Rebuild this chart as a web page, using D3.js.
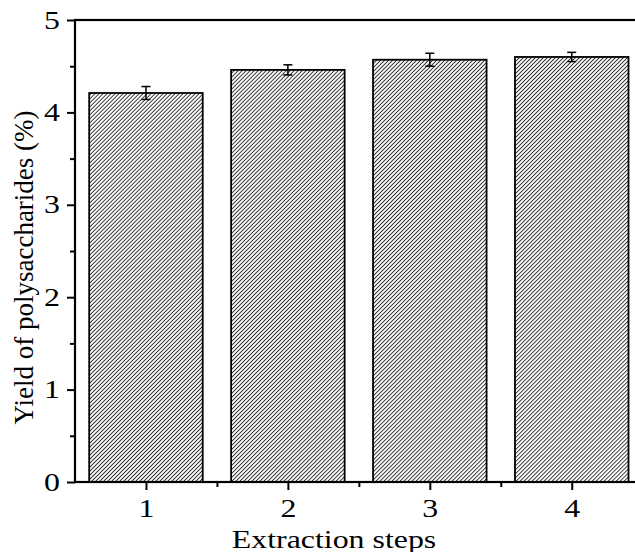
<!DOCTYPE html>
<html><head><meta charset="utf-8">
<script src="https://cdn.jsdelivr.net/npm/d3@7"></script>
<style>body{margin:0;background:#fff}svg{display:block}text{font-family:"Liberation Serif","Times New Roman",serif;fill:#000}</style>
</head><body><svg id="c" width="635" height="552"></svg>
<script>
const categories = [1, 2, 3, 4];
const yields = [4.21, 4.46, 4.57, 4.60];
const errors = [0.07, 0.055, 0.07, 0.05];
const yTicks = [0, 1, 2, 3, 4, 5];
const yMinorTicks = [0.5, 1.5, 2.5, 3.5, 4.5];
const xMinorTicks = [1.5, 2.5, 3.5];
const xLabel = "Extraction steps";
const yLabel = "Yield of polysaccharides (%)";

const svg = d3.select("#c");
const mLeft = 75, mRight = 642.7, mTop = 20, mBottom = 482;
const sx = 1.25, fs = 25.5;
const x = d3.scaleLinear().domain([0.5, 4.5]).range([mLeft, mRight]);
const y = d3.scaleLinear().domain([0, 5]).range([mBottom, mTop]);
const bw = (x(1) - x(0)) * 0.8;

const defs = svg.append("defs");
const pw = 2.83;
const pat = defs.append("pattern").attr("id", "hatch").attr("patternUnits", "userSpaceOnUse")
  .attr("width", pw).attr("height", pw).attr("patternTransform", "rotate(45)");
pat.append("rect").attr("width", pw).attr("height", pw).attr("fill", "#fff");
pat.append("line").attr("x1", 0).attr("y1", 0).attr("x2", 0).attr("y2", pw)
  .attr("stroke", "#000").attr("stroke-width", 1.5);

svg.selectAll("rect.bar").data(categories).enter().append("rect").attr("class", "bar")
  .attr("x", (d) => x(d) - bw / 2).attr("width", bw)
  .attr("y", (d, i) => y(yields[i])).attr("height", (d, i) => y(0) - y(yields[i]))
  .attr("fill", "url(#hatch)").attr("stroke", "#000").attr("stroke-width", 1.8);

const eb = svg.append("g").attr("stroke", "#000").attr("stroke-width", 1.5);
categories.forEach((c, i) => {
  const cx = x(c), t = y(yields[i] + errors[i]), b = y(yields[i] - errors[i]);
  eb.append("line").attr("x1", cx).attr("x2", cx).attr("y1", t).attr("y2", b);
  eb.append("line").attr("x1", cx - 4.5).attr("x2", cx + 4.5).attr("y1", t).attr("y2", t);
  eb.append("line").attr("x1", cx - 4.5).attr("x2", cx + 4.5).attr("y1", b).attr("y2", b);
});

svg.append("rect").attr("x", mLeft).attr("y", mTop).attr("width", mRight - mLeft).attr("height", mBottom - mTop)
  .attr("fill", "none").attr("stroke", "#000").attr("stroke-width", 2.2);

const yAxis = svg.append("g").attr("transform", `translate(${mLeft},0)`)
  .call(d3.axisLeft(y).tickValues(yTicks).tickSize(8).tickPadding(7).tickFormat(d3.format("d")));
yAxis.select(".domain").remove();
yAxis.selectAll("line").attr("stroke-width", 2);
yAxis.selectAll("text").attr("font-size", fs).style("font-family", "Liberation Serif")
  .attr("x", -15 / sx).attr("transform", `scale(${sx},1)`);
const yMin = svg.append("g").attr("transform", `translate(${mLeft},0)`)
  .call(d3.axisLeft(y).tickValues(yMinorTicks).tickSize(5).tickFormat(""));
yMin.select(".domain").remove();
yMin.selectAll("line").attr("stroke-width", 2);

const xAxis = svg.append("g").attr("transform", `translate(0,${mBottom})`)
  .call(d3.axisBottom(x).tickValues(categories).tickSize(8).tickPadding(9).tickFormat(d3.format("d")));
xAxis.select(".domain").remove();
xAxis.selectAll("line").attr("stroke-width", 2);
xAxis.selectAll("text").attr("font-size", fs).style("font-family", "Liberation Serif")
  .attr("transform", `scale(${sx},1)`);
const xMin = svg.append("g").attr("transform", `translate(0,${mBottom})`)
  .call(d3.axisBottom(x).tickValues(xMinorTicks).tickSize(5).tickFormat(""));
xMin.select(".domain").remove();
xMin.selectAll("line").attr("stroke-width", 2);

svg.append("g").attr("transform", `translate(334,548) scale(${sx},1)`)
  .append("text").attr("text-anchor", "middle").attr("font-size", fs).text(xLabel);
svg.append("text").attr("transform", "translate(33,267.5) rotate(-90)").attr("text-anchor", "middle")
  .attr("font-size", 27).text(yLabel);
</script></body></html>
